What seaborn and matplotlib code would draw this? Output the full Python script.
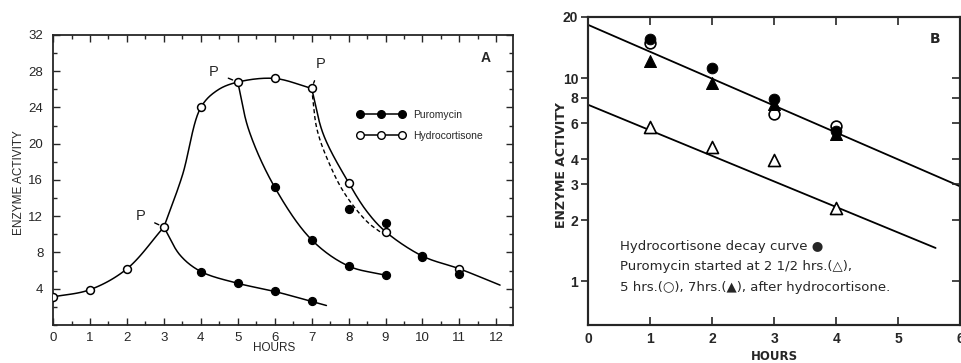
import numpy as np
import matplotlib
matplotlib.use("Agg")
import matplotlib.pyplot as plt
import seaborn as sns
from matplotlib.lines import Line2D
from matplotlib.ticker import MultipleLocator, NullLocator, FixedLocator

# Panel A data (enzyme activity vs hours)
hc_hours = [0, 1, 2, 3, 4, 5, 6, 7, 8, 9, 10, 11]
hc_activity = [3.1, 3.9, 6.2, 10.8, 24.0, 26.8, 27.2, 26.1, 15.7, 10.3, 7.6, 6.2]

pur3_hours = [4, 5, 6, 7]
pur3_activity = [5.9, 4.6, 3.7, 2.6]

pur5_hours = [6, 7, 8, 9]
pur5_activity = [15.2, 9.4, 6.5, 5.5]

pur7_hours = [8, 9, 10, 11]
pur7_activity = [12.8, 11.2, 7.5, 5.6]

# hand-drawn curves (hour, activity); each piece is drawn separately
hc_rise_h = [0, 1, 2, 3]
hc_rise_v = [3.1, 3.9, 6.2, 10.8]
hc_peak_h = [3, 3.5, 4, 4.45, 5, 6, 7]
hc_peak_v = [10.8, 16.5, 24.0, 25.9, 26.8, 27.2, 26.1]
hc_fall_h = [7, 7.32, 8, 8.5, 9, 10, 11, 12.1]
hc_fall_v = [26.1, 21.0, 15.7, 12.5, 10.3, 7.6, 6.2, 4.4]
pur3_trace_h = [3, 3.44, 4, 5, 6, 7, 7.4]
pur3_trace_v = [10.8, 7.7, 5.9, 4.6, 3.7, 2.6, 2.15]
pur5_trace_h = [5, 5.3, 6, 7, 8, 9]
pur5_trace_v = [26.8, 21.5, 15.2, 9.4, 6.5, 5.5]
pur7_guide_h = [7, 7.15, 7.5, 7.91, 8.5, 8.88]
pur7_guide_v = [26.1, 21.5, 17.6, 14.4, 11.4, 10.2]

# P marks: (point hour, point value, label hour, label value)
p_marks = [(3, 10.8, 2.36, 12.0), (5, 26.8, 4.35, 27.9), (7, 26.1, 7.25, 28.8)]

# Panel B data (log scale)
b_hours = [1, 2, 3, 4]
decay_filled = [15.6, 11.2, 7.9, 5.5]
p5_open_hours = [1, 3, 4]
p5_open = [14.9, 6.7, 5.8]
p7_tri_filled = [12.2, 9.5, 7.5, 5.3]
p25_tri_open = [5.75, 4.6, 3.95, 2.3]
fit_upper_hours = [0, 6]
fit_upper = [18.3, 2.93]
fit_lower_hours = [0, 5.6]
fit_lower = [7.4, 1.46]

SX, SY = 36.9, 9.06   # px per hour / px per unit in panel A, so the curve is smooth on screen


def smooth(xs, ys, n=40):
    # centripetal Catmull-Rom through the traced points (drawing only)
    P = np.column_stack([np.asarray(xs, float) * SX, np.asarray(ys, float) * SY])
    P = np.vstack([2 * P[0] - P[1], P, 2 * P[-1] - P[-2]])
    out = []
    for i in range(1, len(P) - 2):
        p0, p1, p2, p3 = P[i - 1], P[i], P[i + 1], P[i + 2]
        t0 = 0.0
        t1 = t0 + np.linalg.norm(p1 - p0) ** 0.5
        t2 = t1 + np.linalg.norm(p2 - p1) ** 0.5
        t3 = t2 + np.linalg.norm(p3 - p2) ** 0.5
        t = np.linspace(t1, t2, n)[:, None]
        a1 = (t1 - t) / (t1 - t0) * p0 + (t - t0) / (t1 - t0) * p1
        a2 = (t2 - t) / (t2 - t1) * p1 + (t - t1) / (t2 - t1) * p2
        a3 = (t3 - t) / (t3 - t2) * p2 + (t - t2) / (t3 - t2) * p3
        b1 = (t2 - t) / (t2 - t0) * a1 + (t - t0) / (t2 - t0) * a2
        b2 = (t3 - t) / (t3 - t1) * a2 + (t - t1) / (t3 - t1) * a3
        out.append((t2 - t) / (t2 - t1) * b1 + (t - t1) / (t2 - t1) * b2)
    c = np.vstack(out)
    return c[:, 0] / SX, c[:, 1] / SY


def curve(ax, xs, ys, **kw):
    cx, cy = smooth(xs, ys)
    sns.lineplot(x=cx, y=cy, sort=False, estimator=None, color="black", ax=ax, **kw)


sns.set_style("ticks")
plt.rcParams["font.family"] = ["Liberation Sans", "DejaVu Sans"]

fig = plt.figure(figsize=(9.61, 3.63), dpi=100)
axA = fig.add_axes([0.0552, 0.1047, 0.4786, 0.799])
axB = fig.add_axes([0.6119, 0.1047, 0.3875, 0.8485])

# ---------- Panel A ----------
for xs, ys in [(hc_rise_h, hc_rise_v), (hc_peak_h, hc_peak_v), (hc_fall_h, hc_fall_v),
               (pur3_trace_h, pur3_trace_v), (pur5_trace_h, pur5_trace_v)]:
    curve(axA, xs, ys, linewidth=1.1)
curve(axA, pur7_guide_h, pur7_guide_v, linewidth=1.0, dashes=(3, 2))

filled_x = pur3_hours + pur5_hours + pur7_hours
filled_y = pur3_activity + pur5_activity + pur7_activity
sns.scatterplot(x=hc_hours, y=hc_activity, s=32, color="white", edgecolor="black",
                linewidth=1.1, zorder=3, ax=axA)
sns.scatterplot(x=filled_x, y=filled_y, s=32, color="black", edgecolor="black",
                linewidth=1.0, zorder=4, ax=axA)

for px, py, tx, ty in p_marks:
    axA.annotate("P", xy=(px, py), xytext=(tx, ty), fontsize=10.5, ha="center", va="center",
                 arrowprops=dict(arrowstyle="-", color="black", lw=1.0, shrinkA=5, shrinkB=4))

handles = [Line2D([0], [0], color="black", lw=1.1, marker="o", ms=5.5, mfc="black", mec="black"),
           Line2D([0], [0], color="black", lw=1.1, marker="o", ms=5.5, mfc="white", mec="black")]
axA.legend(handles, ["Puromycin", "Hydrocortisone"], numpoints=3, handlelength=4.6,
           frameon=False, loc="upper left", bbox_to_anchor=(0.64, 0.775),
           fontsize=7.5, labelspacing=1.1, handletextpad=0.8)

axA.text(0.94, 0.92, "A", transform=axA.transAxes, fontsize=10, fontweight="bold",
         ha="center", va="center")

axA.set_xlim(0, 12.45)
axA.set_ylim(0, 32)
axA.set_xticks(range(0, 13))
axA.xaxis.set_minor_locator(MultipleLocator(0.5))
axA.set_yticks(range(4, 33, 4))
axA.yaxis.set_minor_locator(MultipleLocator(2))
axA.tick_params(which="both", direction="in", top=True, right=True, width=1.0)
axA.tick_params(which="major", length=5, labelsize=9.5)
axA.tick_params(which="minor", length=3)
axA.tick_params(axis="y", pad=7)
axA.tick_params(axis="x", pad=5)
axA.set_xlabel("HOURS", fontsize=8.5)
axA.xaxis.set_label_coords(0.48, -0.06)
axA.set_ylabel("ENZYME ACTIVITY", fontsize=8.5)
axA.yaxis.set_label_coords(-0.062, 0.49)
for sp in axA.spines.values():
    sp.set_linewidth(1.3)

# ---------- Panel B ----------
sns.lineplot(x=fit_upper_hours, y=fit_upper, color="black", linewidth=1.3, ax=axB)
sns.lineplot(x=fit_lower_hours, y=fit_lower, color="black", linewidth=1.3, ax=axB)
sns.scatterplot(x=b_hours, y=p25_tri_open, marker="^", s=75, color="white", edgecolor="black",
                linewidth=1.2, zorder=3, ax=axB)
sns.scatterplot(x=p5_open_hours, y=p5_open, marker="o", s=60, color="white", edgecolor="black",
                linewidth=1.2, zorder=3, ax=axB)
sns.scatterplot(x=b_hours, y=decay_filled, marker="o", s=60, color="black", edgecolor="black",
                zorder=4, ax=axB)
sns.scatterplot(x=b_hours, y=p7_tri_filled, marker="^", s=75, color="black", edgecolor="black",
                zorder=4, ax=axB)

axB.set_yscale("log")
axB.set_xlim(0, 6)
axB.set_ylim(0.61, 20)
axB.set_yticks([1, 2, 3, 4, 6, 8, 10, 20])
axB.set_yticklabels(["1", "2", "3", "4", "6", "8", "10", "20"])
axB.yaxis.set_minor_locator(NullLocator())
axB.set_xticks(range(0, 7))
axB.tick_params(axis="x", direction="in", top=True, length=6, width=1.2, labelsize=10, pad=5)
axB.tick_params(axis="y", direction="out", length=5, width=1.2, labelsize=10, pad=2)
for lab in axB.get_xticklabels() + axB.get_yticklabels():
    lab.set_fontweight("bold")
axB.set_xlabel("HOURS", fontsize=8.5, fontweight="bold", family="DejaVu Sans")
axB.xaxis.set_label_coords(0.5, -0.082)
axB.set_ylabel("ENZYME ACTIVITY", fontsize=9, fontweight="bold", family="DejaVu Sans")
axB.yaxis.set_label_coords(-0.054, 0.52)

twin = axB.twinx()
twin.set_yscale("log")
twin.set_ylim(axB.get_ylim())
twin.yaxis.set_major_locator(FixedLocator([1, 2, 3, 4, 6, 8, 10]))
twin.yaxis.set_minor_locator(NullLocator())
twin.tick_params(axis="y", direction="in", length=6, width=1.2, labelright=False)

for a in (axB, twin):
    for sp in a.spines.values():
        sp.set_linewidth(1.5)

axB.text(0.933, 0.93, "B", transform=axB.transAxes, fontsize=10, fontweight="bold",
         ha="center", va="center", family="DejaVu Sans")
note = ["Hydrocortisone decay curve \u25CF",
        "Puromycin started at 2 1/2 hrs.(\u25B3),",
        "5 hrs.(\u25CB), 7hrs.(\u25B2), after hydrocortisone."]
for i, line in enumerate(note):
    axB.text(0.086, 0.256 - i * 0.067, line, transform=axB.transAxes, fontsize=9.5,
             ha="left", va="center", family="DejaVu Sans")

fig.savefig("out.png", dpi=100)
